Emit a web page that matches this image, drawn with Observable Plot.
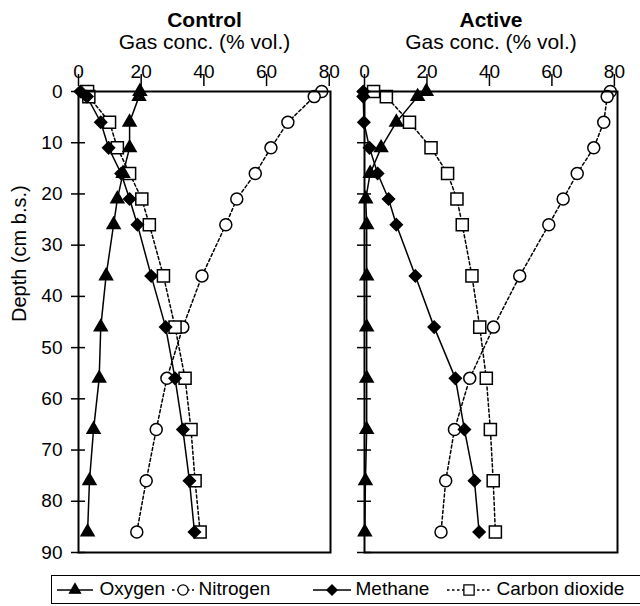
<!DOCTYPE html>
<html><head><meta charset="utf-8">
<script src="https://cdn.jsdelivr.net/npm/d3@7"></script>
<script src="https://cdn.jsdelivr.net/npm/@observablehq/plot@0.6"></script>
<style>
body{margin:0;background:#fff;font-family:"Liberation Sans",Arial,sans-serif;}
#wrap{position:relative;width:640px;height:606px;overflow:hidden;background:#fff;}
#wrap > svg{position:absolute;top:0;}
#legend{position:absolute;left:51px;top:575px;width:640px;height:29px;border:1.5px solid #000;box-sizing:border-box;}
#legend .sym{position:absolute;top:4px;}
#legend .lab{position:absolute;top:0;line-height:26px;font-size:19px;white-space:nowrap;}
#legend svg{display:block;}
</style></head><body><div id="wrap"><div id="legend"></div></div>
<script>
// ---------- data ----------
const depths = [0, 1, 6, 11, 16, 21, 26, 36, 46, 56, 66, 76, 86];
const gases = ["Oxygen", "Nitrogen", "Methane", "Carbon dioxide"];
const xTicks = [0, 20, 40, 60, 80];
const yTicks = [0, 10, 20, 30, 40, 50, 60, 70, 80, 90];

const controlOxygen   = [19.6, 19.3, 16.3, 16.3, 14.2, 12.4, 11.2, 8.8, 7.1, 6.6, 4.8, 3.5, 2.9];
const controlNitrogen = [77.6, 75.2, 66.8, 61.4, 56.4, 50.5, 47.0, 39.4, 33.3, 28.2, 24.8, 21.6, 18.6];
const controlMethane  = [0.6, 2.7, 7.1, 9.6, 13.6, 16.3, 18.8, 23.2, 27.8, 30.8, 33.3, 35.4, 37.0];
const controlCO2      = [2.9, 3.3, 9.9, 12.4, 16.3, 20.2, 22.6, 27.1, 30.8, 34.0, 35.9, 37.2, 38.8];

const activeOxygen   = [19.8, 17.0, 10.2, 5.3, 1.8, 0.4, 0.7, 0.7, 0.7, 0.7, 0.7, 0.3, 0.1];
const activeNitrogen = [78.7, 77.7, 76.6, 73.4, 68.1, 63.6, 59.0, 49.7, 41.3, 33.7, 28.8, 26.0, 24.5];
const activeMethane  = [-0.4, -0.4, -0.2, 1.6, 4.2, 7.7, 10.2, 16.3, 22.3, 29.1, 32.0, 35.2, 36.7];
const activeCO2      = [2.9, 7.0, 14.4, 21.3, 26.6, 29.6, 31.3, 34.4, 36.9, 39.0, 40.3, 41.2, 41.9];

// ---------- styles ----------
const FONT = '"Liberation Sans", Arial, sans-serif';
const gasStyle = {
  "Oxygen":         {symbol: "triangle", r: 4.8, fill: "black", dash: undefined},
  "Nitrogen":       {symbol: "circle",   r: 6,   fill: "white", dash: "3,2.5"},
  "Methane":        {symbol: "diamond2", r: 5.4, fill: "black", dash: undefined},
  "Carbon dioxide": {symbol: "square",   r: 6.8, fill: "white", dash: "3,2.5"}
};
const drawOrder = ["Nitrogen", "Carbon dioxide", "Methane", "Oxygen"];

function panel({title, series, left, width, marginLeft, marginRight, xMax, yLabels}) {
  const rows = gases.flatMap((g, i) => depths.map((d, j) => ({gas: g, depth: d, value: series[i][j]})));
  const marks = [];
  for (const g of gases) {
    marks.push(Plot.line(rows.filter(r => r.gas === g), {
      x: "value", y: "depth", stroke: "black", strokeWidth: 1.5,
      strokeDasharray: gasStyle[g].dash
    }));
  }
  for (const g of drawOrder) {
    const s = gasStyle[g];
    marks.push(Plot.dot(rows.filter(r => r.gas === g), {
      x: "value", y: "depth", symbol: () => s.symbol, r: s.r,
      fill: s.fill, stroke: "black", strokeWidth: 1.5
    }));
  }
  marks.push(
    Plot.frame({stroke: "black", strokeWidth: 2}),
    Plot.axisX(xTicks, {anchor: "top", tickSize: 0, tickPadding: 14, fontSize: 19, label: null}),
    Plot.axisX(xTicks, {anchor: "top", tickSize: 12, insetTop: -6, tickFormat: () => "", label: null, strokeWidth: 1.5}),
    Plot.axisY(yTicks, {anchor: "left", tickSize: 14, insetLeft: 7, tickFormat: () => "", label: null, strokeWidth: 1.5}),
    Plot.text([title], {frameAnchor: "top", dy: -65, fontSize: 21, fontWeight: "bold", lineAnchor: "bottom"}),
    Plot.text(["Gas conc. (% vol.)"], {frameAnchor: "top", dy: -43, fontSize: 21, lineAnchor: "bottom"})
  );
  if (yLabels) {
    marks.push(
      Plot.axisY(yTicks, {anchor: "left", tickSize: 0, tickPadding: 16, fontSize: 19, label: null}),
      Plot.text(["Depth (cm b.s.)"], {frameAnchor: "left", dx: -59, rotate: -90, fontSize: 20})
    );
  }
  const svg = Plot.plot({
    width, height: 572,
    marginTop: 91, marginBottom: 20, marginLeft, marginRight,
    style: {fontFamily: FONT, fontSize: "19px", background: "transparent", overflow: "visible", color: "black"},
    x: {domain: [0, xMax], axis: null},
    y: {domain: [0, 90], reverse: true, axis: null},
    marks
  });
  svg.style.left = left + "px";
  document.getElementById("wrap").appendChild(svg);
}

panel({title: "Control", series: [controlOxygen, controlNitrogen, controlMethane, controlCO2],
       left: 0, width: 340, marginLeft: 78, marginRight: 10, xMax: 80.4, yLabels: true});
panel({title: "Active", series: [activeOxygen, activeNitrogen, activeMethane, activeCO2],
       left: 330, width: 310, marginLeft: 34, marginRight: 23, xMax: 81, yLabels: false});

// ---------- legend (page x positions) ----------
const legendItems = [
  {gas: "Oxygen",         symX: 56,  symW: 38, textX: 100},
  {gas: "Nitrogen",       symX: 171, symW: 24, textX: 199},
  {gas: "Methane",        symX: 312, symW: 40, textX: 356},
  {gas: "Carbon dioxide", symX: 446, symW: 46, textX: 497}
];
const legend = document.getElementById("legend");
const legendLeft = 51 + 1.5;
const ns = "http://www.w3.org/2000/svg";
const symMap = {triangle: d3.symbolTriangle, circle: d3.symbolCircle, diamond2: d3.symbolDiamond2, square: d3.symbolSquare};
for (const it of legendItems) {
  const s = gasStyle[it.gas];
  const svg = document.createElementNS(ns, "svg");
  svg.setAttribute("class", "sym");
  svg.setAttribute("width", it.symW); svg.setAttribute("height", 20);
  svg.style.left = (it.symX - legendLeft) + "px";
  const line = document.createElementNS(ns, "line");
  line.setAttribute("x1", 1); line.setAttribute("x2", it.symW - 1);
  line.setAttribute("y1", 10); line.setAttribute("y2", 10);
  line.setAttribute("stroke", "black"); line.setAttribute("stroke-width", 1.5);
  if (s.dash) line.setAttribute("stroke-dasharray", "2.5,2.5");
  svg.appendChild(line);
  const rr = s.r * 0.85;
  const p = document.createElementNS(ns, "path");
  p.setAttribute("d", d3.symbol(symMap[s.symbol], rr * rr * Math.PI)());
  p.setAttribute("transform", `translate(${it.symW / 2},10)`);
  p.setAttribute("fill", s.fill); p.setAttribute("stroke", "black"); p.setAttribute("stroke-width", 1.3);
  svg.appendChild(p);
  legend.appendChild(svg);
  const t = document.createElement("div");
  t.className = "lab";
  t.style.left = (it.textX - legendLeft) + "px";
  t.textContent = it.gas;
  legend.appendChild(t);
}
</script></body></html>
